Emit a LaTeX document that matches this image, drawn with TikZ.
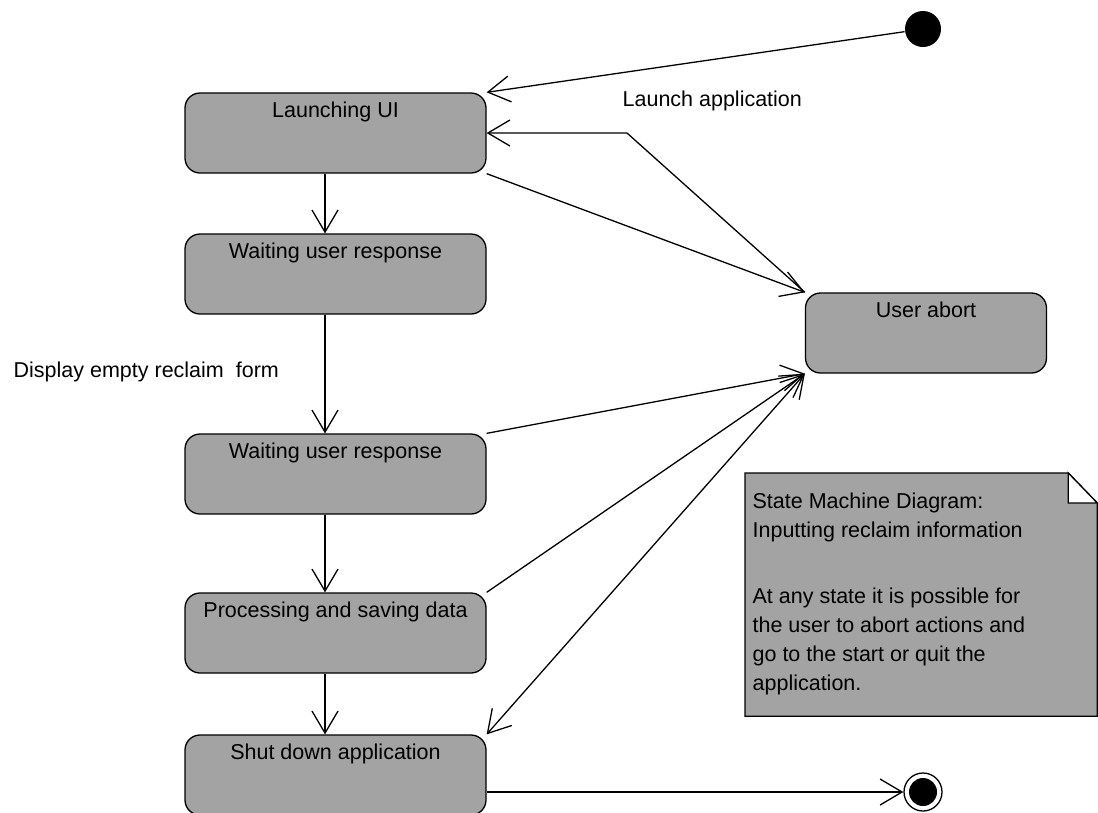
\documentclass[tikz,border=0pt]{standalone}
\usepackage{fontspec}
\setmainfont{Liberation Sans}
\usetikzlibrary{arrows.meta}
\definecolor{stategray}{RGB}{163,163,163}
\begin{document}
\begin{tikzpicture}[x=1pt, y=-1pt,
  line width=1.3pt,
  >={Straight Barb[length=22pt,width=26pt]},
  every node/.style={font=\fontsize{21.5}{29}\selectfont},
  statebox/.style={draw, fill=stategray, rounded corners=15pt,
    minimum width=301pt, inner xsep=0pt, inner ysep=5pt,
    text height=19pt, text depth=51pt},
  abortbox/.style={statebox, minimum width=241pt},
  lbl/.style={anchor=base west, inner sep=0pt}
]
\useasboundingbox (0,0) rectangle (1098,812);

% states
\node[statebox] (launch) at (335.5,133) {Launching UI};
\node[statebox] (wait1)  at (335.5,274) {Waiting user response};
\node[statebox] (wait2)  at (335.5,474) {Waiting user response};
\node[statebox] (proc)   at (335.5,633) {Processing and saving data};
\node[statebox] (shut)   at (335.5,775) {Shut down application};
\node[abortbox] (abort)  at (926,333) {User abort};

% pseudo states
\node[circle, fill=black, minimum size=36pt, inner sep=0pt] (start) at (923,29) {};
\node[circle, draw, minimum size=38pt, inner sep=0pt,
  path picture={\fill (path picture bounding box.center) circle (14pt);}]
  (final) at (923,792) {};

% labels
\node[lbl] (launchlbl) at (622,106) {Launch application};
\node[lbl] (displbl) at (13,377) {Display empty reclaim\ \ form};

% main flow
\draw[->] (start) -- (launch.north east);
\draw[->] ([xshift=-10.5pt]launch.south) -- ([xshift=-10.5pt]wait1.north);
\draw[->] ([xshift=-10.5pt]wait1.south) -- ([xshift=-10.5pt]wait2.north);
\draw[->] ([xshift=-10.5pt]wait2.south) -- ([xshift=-10.5pt]proc.north);
\draw[->] ([xshift=-10.5pt]proc.south) -- ([xshift=-10.5pt]shut.north);
\draw[->] (final -| shut.east) -- (final);

% abort transitions
\coordinate (bend) at (627,133);
\draw[->] (abort.north west) -- (bend) -- (launch.east);
\draw[->] (launch.south east) -- (abort.north west);
\draw[->] (wait2.north east) -- (abort.south west);
\draw[->] (proc.north east) -- (abort.south west);
\draw[<->] (shut.north east) -- (abort.south west);

% note
\node[inner sep=0pt, minimum width=351pt, minimum height=242pt, anchor=north west]
  (note) at (745,473) {};
\draw[fill=stategray] (note.north west) -- ([xshift=-29pt]note.north east)
  -- ([yshift=-30pt]note.north east) -- (note.south east) -- (note.south west) -- cycle;
\draw[fill=white] ([xshift=-29pt]note.north east) -- ([xshift=-29pt,yshift=-30pt]note.north east)
  -- ([yshift=-30pt]note.north east) -- cycle;
\node[anchor=north west, align=left, inner sep=0pt] (notetext)
  at ([xshift=7pt,yshift=-19pt]note.north west)
  {State Machine Diagram:\\Inputting reclaim information\\[37pt]
   At any state it is possible for\\the user to abort actions and\\
   go to the start or quit the\\application.};
\end{tikzpicture}
\end{document}
